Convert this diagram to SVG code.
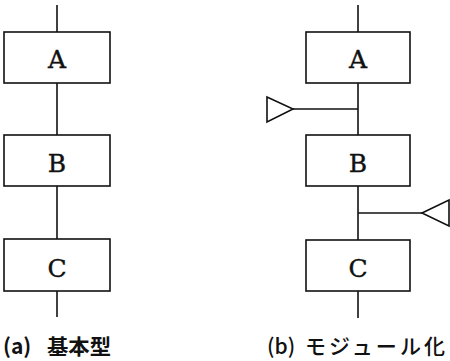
<svg xmlns="http://www.w3.org/2000/svg" width="450" height="361" viewBox="0 0 450 361">
<style>
.box{fill:#fff;stroke:#111;stroke-width:1.6}
.ln{stroke:#111;stroke-width:1.6;fill:none}
.tri{fill:#fff;stroke:#111;stroke-width:1.6;stroke-linejoin:miter}
.lbl{font-family:"DejaVu Serif","Liberation Serif",serif;font-size:25px;fill:#111;text-anchor:middle;stroke:#111;stroke-width:0.4}
.cap{font-family:"Noto Sans CJK JP","Noto Sans",sans-serif;font-size:21px;fill:#111}
</style>
<rect width="450" height="361" fill="#fff"/>
<g id="connectors">
<line class="ln" x1="57" y1="5" x2="57" y2="32"/>
<line class="ln" x1="57" y1="83" x2="57" y2="135"/>
<line class="ln" x1="57" y1="186" x2="57" y2="239"/>
<line class="ln" x1="57" y1="291" x2="57" y2="317"/>
<line class="ln" x1="358" y1="5" x2="358" y2="32"/>
<line class="ln" x1="358" y1="83" x2="358" y2="135"/>
<line class="ln" x1="358" y1="186" x2="358" y2="240"/>
<line class="ln" x1="358" y1="291" x2="358" y2="318"/>
<line class="ln" x1="293" y1="109" x2="358" y2="109"/>
<line class="ln" x1="358" y1="213" x2="422" y2="213"/>
</g>
<g id="a-A"><rect class="box" x="4" y="32" width="106" height="51"/><text class="lbl" x="57" y="68">A</text></g>
<g id="a-B"><rect class="box" x="4" y="135" width="106" height="51"/><text class="lbl" x="57" y="172">B</text></g>
<g id="a-C"><rect class="box" x="4" y="239" width="106" height="52"/><text class="lbl" x="57" y="277">C</text></g>
<g id="b-A"><rect class="box" x="306" y="32" width="104" height="51"/><text class="lbl" x="358" y="68">A</text></g>
<g id="b-B"><rect class="box" x="306" y="135" width="104" height="51"/><text class="lbl" x="358" y="172">B</text></g>
<g id="b-C"><rect class="box" x="306" y="240" width="104" height="51"/><text class="lbl" x="358" y="277">C</text></g>
<g id="b-in"><polygon class="tri" points="267,97 267,122 293,109"/></g>
<g id="b-out"><polygon class="tri" points="422,213 449,200 449,226"/></g>
<g id="caption-a"><text class="cap" font-weight="bold" x="3" y="354">(a)</text><text class="cap" font-weight="bold" x="47" y="354" textLength="64" lengthAdjust="spacingAndGlyphs">基本型</text></g>
<g id="caption-b"><text class="cap" font-weight="500" x="267" y="354">(b)</text><text class="cap" font-weight="500" x="305" y="354" textLength="140" lengthAdjust="spacing">モジュール化</text></g>
</svg>
